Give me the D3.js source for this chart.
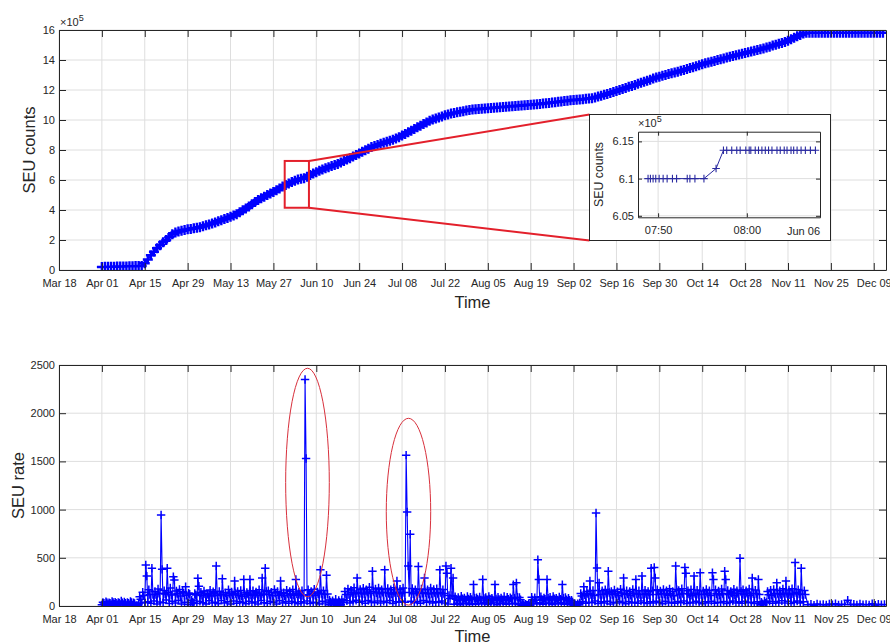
<!DOCTYPE html>
<html>
<head>
<meta charset="utf-8">
<script src="https://cdn.jsdelivr.net/npm/d3@7"></script>
<style>
  body { margin: 0; background: #fff; }
  text { font-family: "Liberation Sans", Arial, Helvetica, sans-serif; fill: #262626; }
  .axis path, .axis line { stroke: #262626; }
  .axis text { font-size: 11px; fill: #262626; font-family: "Liberation Sans", Arial, sans-serif; }
</style>
</head>
<body>
<svg id="fig" width="890" height="643"></svg>
<script>
// ---------------- data ----------------
const YEAR = 2019;
const xTickLabels = ["Mar 18","Apr 01","Apr 15","Apr 29","May 13","May 27","Jun 10","Jun 24",
  "Jul 08","Jul 22","Aug 05","Aug 19","Sep 02","Sep 16","Sep 30","Oct 14","Oct 28","Nov 11","Nov 25","Dec 09"];
const countTicks = [0, 2, 4, 6, 8, 10, 12, 14, 16];      // x 10^5
const rateTicks = [0, 500, 1000, 1500, 2000, 2500];

// cumulative SEU counts (x 10^5), one value per day from Apr 01
const countApr = [0.20,0.21,0.21,0.22,0.22,0.23,0.23,0.24,0.24,0.25,0.25,0.26,0.26,0.27,0.45,
  0.70,0.98,1.22,1.45,1.65,1.85,2.00,2.20,2.38,2.50,2.57,2.62,2.67,2.71,2.74];
const countMay = [2.78,2.81,2.85,2.91,2.98,3.04,3.10,3.17,3.25,3.32,3.40,3.47,3.55,3.63,3.72,
  3.85,3.98,4.10,4.24,4.38,4.53,4.67,4.78,4.89,5.00,5.10,5.20,5.32,5.44,5.56,5.67];
const countJun = [5.76,5.86,5.95,6.04,6.08,6.12,6.22,6.33,6.44,6.52,6.61,6.70,6.78,6.85,6.93,
  7.00,7.07,7.17,7.27,7.36,7.45,7.56,7.66,7.77,7.88,7.98,8.09,8.20,8.27,8.34];
const countJul = [8.41,8.48,8.55,8.62,8.69,8.76,8.85,8.96,9.07,9.18,9.29,9.40,9.51,9.62,9.73,
  9.84,9.95,10.03,10.10,10.17,10.24,10.31,10.37,10.43,10.47,10.51,10.55,10.59,10.63,10.67,10.70];
const countAug = [10.72,10.73,10.75,10.77,10.78,10.80,10.82,10.84,10.85,10.87,10.89,10.90,10.92,
  10.94,10.95,10.97,10.99,11.00,11.02,11.04,11.05,11.07,11.10,11.12,11.14,11.17,11.19,11.21,11.24,11.26,11.29];
const countSep = [11.31,11.33,11.35,11.37,11.39,11.41,11.43,11.45,11.50,11.56,11.62,11.68,11.74,
  11.80,11.86,11.93,12.00,12.07,12.14,12.21,12.27,12.34,12.41,12.48,12.55,12.62,12.69,12.76,12.83,12.89];
const countOct = [12.95,13.00,13.06,13.11,13.17,13.22,13.28,13.33,13.40,13.46,13.52,13.59,13.65,
  13.72,13.78,13.83,13.89,13.94,14.00,14.05,14.10,14.16,14.21,14.27,14.32,14.37,14.42,14.47,14.52,14.57,14.61];
const countNov = [14.66,14.71,14.77,14.83,14.89,14.96,15.02,15.08,15.14,15.20,15.29,15.38,15.48,
  15.58,15.67,15.76,15.82,15.82,15.82,15.82,15.82,15.82,15.82,15.82,15.82,15.82,15.82,15.82,15.82,15.82];
const countDec = [15.82,15.82,15.82,15.82,15.82,15.82,15.82,15.82,15.82,15.82,15.82,15.82];

// SEU rate, three samples per day (00:00, 08:00, 16:00) from Apr 01 to Nov 16
const rateApr = [
  12,38,30, 8,45,34, 15,34,28, 9,48,36, 18,40,30, 7,36,32, 14,52,34, 10,41,30, 6,38,28, 13,47,36,
  9,35,26, 3,6,4, 22,96,70, 30,142,110, 36,425,310, 44,168,120, 28,391,120, 52,150,118, 20,176,132, 41,944,380,
  35,160,124, 62,391,140, 26,188,115, 48,304,270, 30,155,128, 58,172,104, 22,148,136, 40,200,112, 18,134,122, 12,60,40];
const rateMay = [
  30,130,114, 26,287,205, 48,142,108, 34,156,126, 22,128,118, 55,165,104, 30,148,132, 40,415,110, 24,152,116, 58,283,120,
  32,138,106, 44,170,128, 20,145,116, 52,260,130, 28,150,112, 46,162,102, 36,275,120, 24,140,124, 50,275,110, 30,158,114,
  42,146,130, 22,168,110, 56,290,125, 34,391,150, 26,160,118, 48,142,106, 38,172,134, 20,150,112, 54,260,128, 30,138,106,
  46,165,128];
const rateJun = [
  28,152,120, 50,170,112, 36,275,126, 24,146,120, 44,160,108, 30,2350,1530, 52,168,116, 26,150,130, 40,175,110, 34,145,126,
  22,375,130, 48,160,118, 30,320,124, 14,62,42, 10,55,38, 16,70,32, 8,58,40, 12,66,36, 36,150,118, 54,178,120,
  30,165,140, 46,190,126, 60,290,140, 38,172,132, 50,185,124, 28,168,146, 56,195,130, 42,361,150, 34,176,138, 52,188,128];
const rateJul = [
  30,170,142, 48,375,140, 36,182,130, 58,168,124, 26,190,140, 44,260,136, 38,175,130, 52,186,140, 40,1565,975, 415,140,745,
  50,182,126, 34,170,144, 46,410,130, 28,176,132, 56,290,140, 38,168,124, 50,188,130, 30,172,140, 44,180,128, 36,375,140,
  52,170,130, 30,415,340, 22,110,78, 391,110,290, 18,96,70, 28,88,64, 14,102,76, 26,84,60, 32,98,74, 16,90,68,
  24,222,80];
const rateAug = [
  18,86,70, 28,94,62, 20,275,80, 34,88,66, 16,100,72, 26,82,60, 30,222,74, 14,92,68, 24,84,66, 32,98,58,
  18,90,70, 26,86,74, 20,222,80, 28,240,90, 16,88,66, 6,22,10, 4,18,8, 8,24,6, 22,92,64, 30,86,60,
  20,480,275, 34,96,68, 18,84,70, 26,275,80, 30,90,62, 16,98,76, 28,82,64, 22,94,70, 34,222,80, 18,88,66,
  26,80,60];
const rateSep = [
  14,60,42, 6,20,8, 8,24,10, 30,130,104, 46,200,116, 28,150,128, 40,260,120, 34,162,110, 52,965,395, 26,240,120,
  44,158,118, 30,170,132, 48,360,140, 22,152,120, 38,166,128, 30,148,106, 50,175,134, 36,290,120, 24,160,126, 46,150,110,
  32,172,132, 40,275,124, 28,158,120, 52,310,120, 34,165,128, 26,150,116, 44,391,160, 30,400,290, 48,168,120, 36,155,130];
const rateOct = [
  24,172,124, 50,160,112, 32,178,128, 40,150,106, 28,415,170, 46,162,120, 34,180,130, 52,400,340, 26,158,124, 40,170,110,
  30,310,130, 48,165,122, 36,345,120, 24,156,120, 44,172,132, 32,160,108, 50,345,275, 28,168,126, 40,155,114, 34,176,128,
  46,360,275, 26,162,120, 38,150,134, 52,174,110, 30,160,130, 44,495,150, 28,168,120, 48,158,132, 34,176,110, 40,290,126,
  26,165,128];
const rateNov = [
  44,275,120, 10,40,24, 12,52,30, 36,150,116, 50,165,110, 28,172,128, 46,240,130, 32,160,120, 54,178,132, 30,260,130,
  48,166,116, 26,180,126, 40,450,140, 52,170,124, 30,391,120, 44,160,118];
// quiet period, one sample per day (12:00) from Nov 17 to Dec 12
const rateQuiet = [12,18,9,22,14,16,10,20,13,24,11,17,15,60,12,19,10,21,14,16,12,23,9,18,13,15];

// Jun 06 detail of the cumulative count (x 10^5)
const detailTimes = ["07:48:52","07:49:08","07:49:26","07:49:44","07:50:07","07:50:34","07:51:01","07:51:37",
  "07:52:05","07:53:17","07:53:35","07:54:09","07:55:10","07:56:32","07:57:22","07:57:44","07:58:18","07:58:52",
  "07:59:15","07:59:53","08:00:16","08:00:27","08:00:57","08:01:19","08:01:42","08:02:05","08:02:27","08:02:50",
  "08:03:24","08:03:46","08:04:13","08:04:32","08:04:59","08:05:17","08:05:40","08:06:07","08:06:36","08:07:10","08:07:44"];
const detailCounts = [6.100,6.100,6.100,6.100,6.100,6.100,6.100,6.100,6.100,6.100,6.100,6.100,6.100,6.1135,
  6.138,6.138,6.138,6.138,6.138,6.138,6.138,6.138,6.138,6.138,6.138,6.138,6.138,6.138,6.138,6.138,6.138,
  6.138,6.138,6.138,6.138,6.138,6.138,6.138,6.138];
const detailYTicks = [6.05, 6.1, 6.15];
const detailXTicks = ["07:50", "08:00"];
const detailDay = "Jun 06";

// magnified window on the count curve, and highlighted bursts on the rate plot
const zoomWindow = { from: "2019-05-30 16:30", to: "2019-06-07 14:24", lo: 4.15, hi: 7.27 };
const burstFrom = ["2019-05-31 00:00", "2019-07-02 20:24"];
const burstTo   = ["2019-06-14 06:00", "2019-07-17 08:24"];
const burstLo   = [96, 10];
const burstHi   = [2466, 1947];

// ---------------- build series ----------------
const parseDT = d3.timeParse("%Y-%m-%d %H:%M");
const parseDay = d3.timeParse("%b %d %Y");
const parseClock = d3.timeParse("%Y-%m-%d %H:%M:%S");
const startDay = new Date(YEAR, 3, 1);

const countValues = [].concat(countApr, countMay, countJun, countJul, countAug, countSep, countOct, countNov, countDec);
const countSeries = countValues.map((v, i) => ({ t: d3.timeDay.offset(startDay, i), v }));

const rateBusy = [].concat(rateApr, rateMay, rateJun, rateJul, rateAug, rateSep, rateOct, rateNov);
const rateSeries = rateBusy.map((v, i) => ({ t: d3.timeHour.offset(startDay, i * 8), v }))
  .concat(rateQuiet.map((v, i) => ({ t: d3.timeHour.offset(new Date(YEAR, 10, 17, 12), i * 24), v })));

const detailSeries = detailTimes.map((s, i) => ({ t: parseClock(`${YEAR}-06-06 ${s}`), v: detailCounts[i] }));

const tickDates = xTickLabels.map(s => parseDay(`${s} ${YEAR}`));

// ---------------- layout ----------------
const svg = d3.select("#fig");
const topBox = { l: 59, r: 886, t: 30, b: 270 };
const botBox = { l: 59, r: 886, t: 365, b: 606 };
const BLUE = "#0000ff";
const GRID = "#dedede";
const RED = "#e3202b";

const x = d3.scaleTime().domain([new Date(YEAR, 2, 18), new Date(YEAR, 11, 13)]).range([topBox.l, topBox.r]);
const yCount = d3.scaleLinear().domain([0, 16]).range([topBox.b, topBox.t]);
const yRate = d3.scaleLinear().domain([0, 2500]).range([botBox.b, botBox.t]);

const defs = svg.append("defs");
function clip(id, b) {
  defs.append("clipPath").attr("id", id).append("rect")
    .attr("x", b.l).attr("y", b.t).attr("width", b.r - b.l).attr("height", b.b - b.t);
}
clip("clipTop", topBox); clip("clipBot", botBox);

function plusPath(data, xs, ys, h) {
  return data.map(d => {
    const px = xs(d.t), py = ys(d.v);
    return `M${px - h},${py}h${2 * h}M${px},${py - h}v${2 * h}`;
  }).join("");
}

function grid(g, box, xs, ys, xt, yt) {
  g.selectAll("line.gx").data(xt).join("line").attr("class", "gx")
    .attr("x1", d => xs(d)).attr("x2", d => xs(d)).attr("y1", box.t).attr("y2", box.b)
    .attr("stroke", GRID).attr("stroke-width", 1);
  g.selectAll("line.gy").data(yt).join("line").attr("class", "gy")
    .attr("y1", d => ys(d)).attr("y2", d => ys(d)).attr("x1", box.l).attr("x2", box.r)
    .attr("stroke", GRID).attr("stroke-width", 1);
}

function frame(g, box, xs, ys, xt, yt, fx, fy, tick, showXLabels) {
  g.append("g").attr("class", "axis").attr("transform", `translate(0,${box.b})`)
    .call(d3.axisBottom(xs).tickValues(xt).tickFormat(showXLabels ? fx : () => "")
      .tickSizeInner(-tick).tickSizeOuter(0).tickPadding(9));
  g.append("g").attr("class", "axis").attr("transform", `translate(0,${box.t})`)
    .call(d3.axisTop(xs).tickValues(xt).tickFormat(() => "").tickSizeInner(-tick).tickSizeOuter(0));
  g.append("g").attr("class", "axis").attr("transform", `translate(${box.l},0)`)
    .call(d3.axisLeft(ys).tickValues(yt).tickFormat(fy).tickSizeInner(-tick).tickSizeOuter(0).tickPadding(4));
  g.append("g").attr("class", "axis").attr("transform", `translate(${box.r},0)`)
    .call(d3.axisRight(ys).tickValues(yt).tickFormat(() => "").tickSizeInner(-tick).tickSizeOuter(0));
  g.selectAll(".axis .domain").attr("stroke-width", 1);
}

const fmtLabel = (d, i) => xTickLabels[i];

// ---------------- top panel: cumulative counts ----------------
const gTop = svg.append("g");
grid(gTop, topBox, x, yCount, tickDates, countTicks);
const gTopData = gTop.append("g").attr("clip-path", "url(#clipTop)");
gTopData.append("path").datum(countSeries)
  .attr("d", d3.line().x(d => x(d.t)).y(d => yCount(d.v)))
  .attr("fill", "none").attr("stroke", BLUE).attr("stroke-width", 1.5);
gTopData.append("path").attr("d", plusPath(countSeries, x, yCount, 5))
  .attr("fill", "none").attr("stroke", BLUE).attr("stroke-width", 2.4);

// magnified window and connectors
const zx0 = x(parseDT(zoomWindow.from)), zx1 = x(parseDT(zoomWindow.to));
const zy0 = yCount(zoomWindow.hi), zy1 = yCount(zoomWindow.lo);
const inset = { l: 589.5, t: 114.5, w: 241, h: 126 };
gTop.append("rect").attr("x", zx0).attr("y", zy0).attr("width", zx1 - zx0).attr("height", zy1 - zy0)
  .attr("fill", "none").attr("stroke", RED).attr("stroke-width", 2);
gTop.append("line").attr("x1", zx1).attr("y1", zy0).attr("x2", inset.l).attr("y2", inset.t)
  .attr("stroke", RED).attr("stroke-width", 2);
gTop.append("line").attr("x1", zx1).attr("y1", zy1).attr("x2", inset.l).attr("y2", inset.t + inset.h)
  .attr("stroke", RED).attr("stroke-width", 2);

frame(gTop, topBox, x, yCount, tickDates, countTicks, fmtLabel, d => d, 7, true);

gTop.append("text").attr("x", 60).attr("y", 26).attr("font-size", 11)
  .text("\u00d710").append("tspan").attr("dy", -5).attr("font-size", 9).text("5");
gTop.append("text").attr("transform", `translate(34.5,${(topBox.t + topBox.b) / 2}) rotate(-90)`)
  .attr("text-anchor", "middle").attr("font-size", 16.5).text("SEU counts");
gTop.append("text").attr("x", (topBox.l + topBox.r) / 2).attr("y", 308)
  .attr("text-anchor", "middle").attr("font-size", 16.5).text("Time");

// ---------------- inset: Jun 06 detail ----------------
const gIn = svg.append("g");
gIn.append("rect").attr("x", inset.l).attr("y", inset.t).attr("width", inset.w).attr("height", inset.h)
  .attr("fill", "#fff").attr("stroke", "#262626").attr("stroke-width", 1);
const inBox = { l: 638, r: 820, t: 131.7, b: 217.3 };
const xIn = d3.scaleTime()
  .domain([parseClock(`${YEAR}-06-06 07:47:44`), parseClock(`${YEAR}-06-06 08:08:15`)]).range([inBox.l, inBox.r]);
const yIn = d3.scaleLinear().domain([6.048, 6.163]).range([inBox.b, inBox.t]);
const inXTicks = detailXTicks.map(s => parseClock(`${YEAR}-06-06 ${s}:00`));
grid(gIn, inBox, xIn, yIn, inXTicks, detailYTicks);
const NAVY = "#2a2aa0";
gIn.append("path").datum(detailSeries)
  .attr("d", d3.line().x(d => xIn(d.t)).y(d => yIn(d.v)))
  .attr("fill", "none").attr("stroke", NAVY).attr("stroke-width", 1);
gIn.append("path").attr("d", plusPath(detailSeries, xIn, yIn, 3.8))
  .attr("fill", "none").attr("stroke", NAVY).attr("stroke-width", 1.1);
frame(gIn, inBox, xIn, yIn, inXTicks, detailYTicks, (d, i) => detailXTicks[i], d => `${d}`, 4, true);
gIn.append("text").attr("x", inBox.r).attr("y", 235).attr("text-anchor", "end").attr("font-size", 11).text(detailDay);
gIn.append("text").attr("x", 638).attr("y", 127).attr("font-size", 11)
  .text("\u00d710").append("tspan").attr("dy", -5).attr("font-size", 9).text("5");
gIn.append("text").attr("transform", `translate(603,${(inBox.t + inBox.b) / 2}) rotate(-90)`)
  .attr("text-anchor", "middle").attr("font-size", 12.3).text("SEU counts");

// ---------------- bottom panel: rate ----------------
const gBot = svg.append("g");
grid(gBot, botBox, x, yRate, tickDates, rateTicks);
const gBotData = gBot.append("g").attr("clip-path", "url(#clipBot)");
gBotData.append("path").datum(rateSeries)
  .attr("d", d3.line().x(d => x(d.t)).y(d => yRate(d.v)))
  .attr("fill", "none").attr("stroke", BLUE).attr("stroke-width", 1.1);
gBotData.append("path").attr("d", plusPath(rateSeries, x, yRate, 4.2))
  .attr("fill", "none").attr("stroke", BLUE).attr("stroke-width", 1.5);

// highlighted bursts
burstFrom.forEach((f, i) => {
  const ex0 = x(parseDT(f)), ex1 = x(parseDT(burstTo[i]));
  const ey0 = yRate(burstHi[i]), ey1 = yRate(burstLo[i]);
  gBot.append("ellipse").attr("cx", (ex0 + ex1) / 2).attr("cy", (ey0 + ey1) / 2)
    .attr("rx", (ex1 - ex0) / 2).attr("ry", (ey1 - ey0) / 2)
    .attr("fill", "none").attr("stroke", "#d8303c").attr("stroke-width", 1);
});

frame(gBot, botBox, x, yRate, tickDates, rateTicks, fmtLabel, d => d, 7, true);
gBot.append("text").attr("transform", `translate(24,${(botBox.t + botBox.b) / 2}) rotate(-90)`)
  .attr("text-anchor", "middle").attr("font-size", 16.5).text("SEU rate");
gBot.append("text").attr("x", (botBox.l + botBox.r) / 2).attr("y", 642)
  .attr("text-anchor", "middle").attr("font-size", 16.5).text("Time");
</script>
</body>
</html>
